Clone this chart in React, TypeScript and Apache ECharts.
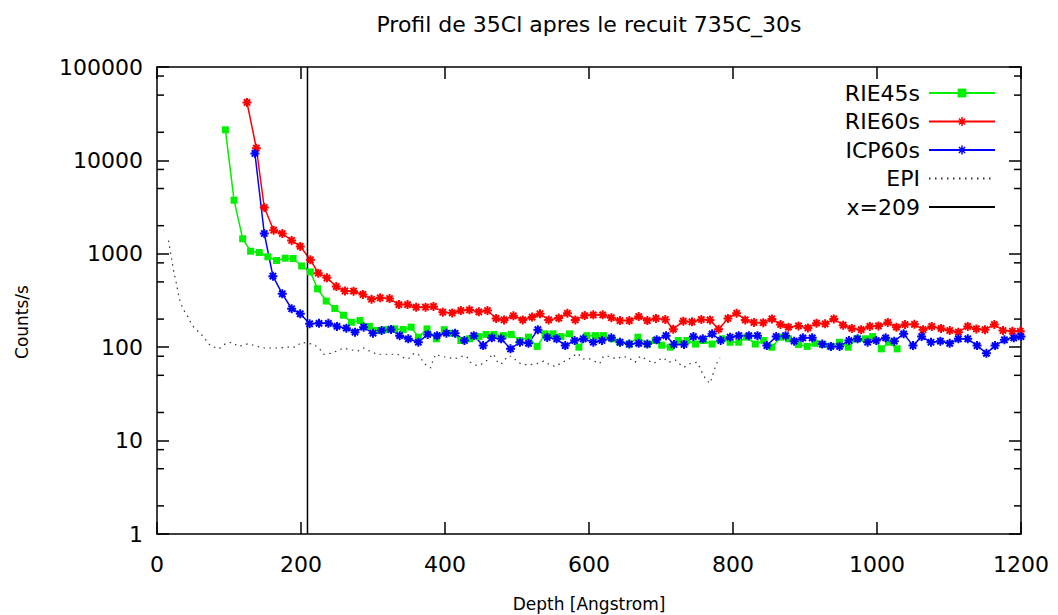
import React, { useEffect, useRef } from "react";
import * as echarts from "echarts";

const FONT = "DejaVu Sans";

const rie45Depth = [95,107,119,130,142,154,166,178,189,201,213,223,235,247,259,270,282,295,306,318,330,342,353,363,375,388,399,411,422,434,447,457,468,481,492,504,516,528,539,550,561,573,586,597,609,620,632,643,656,668,681,692,701,713,724,736,748,759,771,785,796,808,819,831,843,854,866,877,891,903,914,925,935,948,960,972,984,994,1006,1016,1028];
const rie45Counts = [21270,3750,1448,1066,1032,929,848,897,891,740,640,422,312,260,220,185,193,167,151,154,157,155,164,128,157,123,154,141,118,123,130,137,137,133,137,118,128,102,139,139,130,139,100,133,133,133,123,113,108,128,108,118,105,100,118,118,108,118,108,123,113,113,128,108,118,100,128,123,107,102,110,107,102,113,100,123,123,130,96,113,96];

const rie60Depth = [125,138,149,162,174,187,199,213,224,236,249,261,273,286,298,310,323,336,348,360,373,384,397,410,422,434,447,459,471,482,495,508,521,532,544,558,570,581,594,606,619,631,643,656,669,681,693,706,717,731,743,756,768,780,793,805,817,829,842,854,866,877,891,904,916,928,940,953,965,978,990,1002,1015,1027,1039,1052,1064,1076,1089,1101,1113,1126,1138,1150,1163,1175,1188,1199];
const rie60Counts = [41700,13500,3130,1790,1650,1390,1200,863,620,553,446,400,398,367,326,338,332,286,286,268,268,273,237,233,247,251,239,247,203,196,217,196,210,228,196,205,231,196,218,222,222,207,193,193,213,193,203,198,156,190,187,198,196,156,203,231,196,184,183,201,175,164,169,161,181,178,201,172,159,154,167,169,184,164,175,176,154,167,159,151,145,167,157,154,175,151,148,148];

const icp60Depth = [136,149,161,174,187,199,212,225,238,250,263,275,287,300,312,325,337,349,363,376,389,402,414,427,440,453,465,478,491,504,516,529,542,555,567,580,592,606,618,631,643,656,669,681,694,707,718,732,745,758,771,783,796,808,822,834,847,860,873,885,897,910,924,936,948,961,973,987,999,1012,1024,1037,1050,1062,1075,1088,1101,1113,1126,1139,1152,1164,1177,1190,1200];
const icp60Counts = [11860,1650,576,373,258,228,178,180,180,167,160,145,164,141,151,155,133,123,113,137,133,141,141,118,133,104,126,123,96,113,110,154,127,123,104,118,123,113,118,126,113,108,110,108,120,133,107,107,130,123,139,118,128,133,133,133,104,130,133,116,126,126,108,102,102,118,123,113,118,126,116,139,104,130,113,116,110,123,123,104,86,104,120,126,130];

const epiDepth = [16,19,23,27,31,36,42,49,56,65,74,86,95,104,113,127,139,150,167,181,192,201,218,226,231,241,250,259,268,279,287,295,306,324,334,343,349,357,363,368,374,380,383,387,394,403,413,424,430,435,443,451,459,467,474,479,487,492,500,507,518,529,537,544,553,563,570,579,584,592,601,607,615,620,627,638,647,655,664,671,681,690,697,703,711,720,726,732,741,750,755,758,764,768,771,774,778,782];
const epiCounts = [1387,1000,661,478,330,258,218,171,151,128,104,96,109,113,102,109,102,98,98,100,100,113,107,96,84,86,91,98,94,91,98,91,84,84,84,77,75,86,84,73,64,60,71,84,80,78,75,80,80,69,64,66,73,85,67,67,80,80,71,65,65,67,71,66,62,69,73,81,86,75,75,71,67,80,80,75,80,77,69,80,73,67,73,77,69,73,66,61,67,69,59,51,44,41,48,57,69,77];

const cutDepth = [209, 209];
const cutCounts = [1, 100000];

const minorTickValues = [2,5,8,20,50,80,200,500,800,2000,5000,8000,20000,50000,80000];

const zip = (xs: number[], ys: number[]) => xs.map((x, i) => [x, ys[i]]);

const ASTERISK = "path://M0,5L10,5M5,0L5,10M1.5,1.5L8.5,8.5M8.5,1.5L1.5,8.5";

export default function App() {
  const ref = useRef<HTMLDivElement>(null);
  useEffect(() => {
    const chart = echarts.init(ref.current!, undefined, { renderer: "svg" });
    const axisLine = { show: true, onZero: false, lineStyle: { color: "#000", width: 1.5 } };
    const tick = { show: true, inside: true, length: 12, lineStyle: { color: "#000", width: 1.5 } };
    const labelStyle = { color: "#000", fontSize: 22, fontFamily: FONT };
    const hiddenMark = { color: "rgba(0,0,0,0)", borderWidth: 0, opacity: 0 };
    const option: any = {
      animation: false,
      backgroundColor: "#fff",
      title: {
        text: "Profil de 35Cl apres le recuit 735C_30s",
        left: 584,
        top: 8,
        textAlign: "center",
        textStyle: { fontFamily: FONT, fontSize: 22, fontWeight: "normal", color: "#000" },
      },
      graphic: [
        {
          type: "text",
          x: 22,
          y: 322,
          rotation: Math.PI / 2,
          style: {
            text: "Counts/s",
            fontFamily: FONT,
            fontSize: 17,
            fill: "#000",
            align: "center",
            verticalAlign: "middle",
          },
        },
      ],
      grid: { left: 157, right: 37, top: 67, bottom: 81, outerBoundsMode: "none", containLabel: false },
      legend: {
        data: [
          { name: "RIE45s" },
          { name: "RIE60s", itemStyle: { borderWidth: 1.5 } },
          { name: "ICP60s", itemStyle: { borderWidth: 1.5 } },
          { name: "EPI", itemStyle: hiddenMark },
          { name: "x=209", itemStyle: hiddenMark },
        ],
        orient: "vertical",
        align: "right",
        right: 62,
        top: 82,
        padding: 0,
        itemWidth: 66,
        itemHeight: 11,
        itemGap: 6.5,
        selectedMode: false,
        textStyle: { fontFamily: FONT, fontSize: 22, color: "#000", lineHeight: 22, padding: [0, 4, 0, 0] },
      },
      xAxis: [
        {
          type: "value", min: 0, max: 1200, interval: 200, position: "bottom",
          axisLine, axisTick: tick, splitLine: { show: false },
          axisLabel: { ...labelStyle, margin: 19, formatter: (v: number) => String(v) },
          name: "Depth [Angstrom]", nameLocation: "middle", nameGap: 61,
          nameTextStyle: { fontFamily: FONT, fontSize: 17, color: "#000" },
        },
        {
          type: "value", min: 0, max: 1200, interval: 200, position: "top",
          axisLine, axisTick: tick, splitLine: { show: false }, axisLabel: { show: false },
        },
      ],
      yAxis: [
        {
          type: "log", logBase: 10, min: 1, max: 100000, position: "left",
          axisLine, axisTick: tick, splitLine: { show: false },
          axisLabel: { ...labelStyle, margin: 14, formatter: (v: number) => String(Math.round(v)) },
        },
        {
          type: "log", logBase: 10, min: 1, max: 100000, position: "right",
          axisLine, axisTick: tick, splitLine: { show: false }, axisLabel: { show: false },
        },
      ],
      series: [
        {
          name: "RIE45s", type: "line", data: zip(rie45Depth, rie45Counts),
          symbol: "rect", symbolSize: 7,
          lineStyle: { color: "#00f000", width: 1.5 }, itemStyle: { color: "#00f000" },
        },
        {
          name: "RIE60s", type: "line", data: zip(rie60Depth, rie60Counts),
          symbol: ASTERISK, symbolSize: 9,
          lineStyle: { color: "#ff0000", width: 1.5 },
          itemStyle: { color: "#ff0000", borderColor: "#ff0000", borderWidth: 2 },
        },
        {
          name: "ICP60s", type: "line", data: zip(icp60Depth, icp60Counts),
          symbol: ASTERISK, symbolSize: 9,
          lineStyle: { color: "#0000ff", width: 1.5 },
          itemStyle: { color: "#0000ff", borderColor: "#0000ff", borderWidth: 2 },
        },
        {
          name: "EPI", type: "line", data: zip(epiDepth, epiCounts),
          symbol: "none",
          lineStyle: { color: "#333", width: 1.2, type: [1.5, 4.5] },
          itemStyle: { color: "#333" },
        },
        {
          name: "x=209", type: "line", data: zip(cutDepth, cutCounts),
          symbol: "none",
          lineStyle: { color: "#000", width: 1.5 },
          itemStyle: { color: "#000" },
        },
        {
          name: "minorTicks", type: "custom", silent: true, clip: false,
          data: minorTickValues.map((v) => [0, v]),
          encode: { x: 0, y: 1 },
          renderItem: (_p: any, api: any) => {
            const v = api.value(1);
            const l = api.coord([0, v]);
            const r = api.coord([1200, v]);
            const st = { stroke: "#000", lineWidth: 1.5 };
            return {
              type: "group",
              children: [
                { type: "line", shape: { x1: l[0], y1: l[1], x2: l[0] + 7, y2: l[1] }, style: st },
                { type: "line", shape: { x1: r[0] - 7, y1: r[1], x2: r[0], y2: r[1] }, style: st },
              ],
            };
          },
        },
      ],
    };
    chart.setOption(option);
    return () => chart.dispose();
  }, []);
  return (
    <div
      ref={ref}
      style={{ position: "fixed", left: 0, top: 0, width: 1058, height: 615, background: "#fff" }}
    />
  );
}
